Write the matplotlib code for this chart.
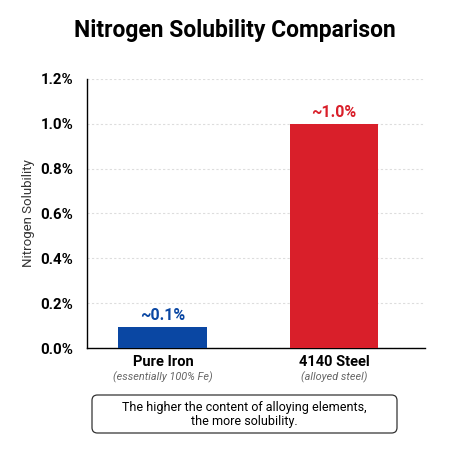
import matplotlib.pyplot as plt
from matplotlib.patches import FancyBboxPatch

categories = ["Pure Iron", "4140 Steel"]
subtitles = ["(essentially 100% Fe)", "(alloyed steel)"]
values = [0.095, 1.0]
value_labels = ["~0.1%", "~1.0%"]
colors = ["#0a47a3", "#d91f2a"]
yticks = [0.0, 0.2, 0.4, 0.6, 0.8, 1.0, 1.2]

plt.rcParams["font.family"] = ["Roboto", "DejaVu Sans"]

fig = plt.figure(figsize=(4.52, 4.54), dpi=100)
ax = fig.add_axes([87 / 452, 1 - 348 / 454, 338 / 452, 269 / 454])

x = range(len(categories))
ax.bar(x, values, width=0.52, color=colors, zorder=3)
for i, v in enumerate(values):
    ax.text(i, v + 0.015, value_labels[i], ha="center", va="bottom",
            fontsize=11.5, fontweight="bold", color=colors[i])

ax.set_xlim(-0.444, 1.532)
ax.set_ylim(0, 1.2)
ax.set_yticks(yticks)
ax.set_yticklabels([f"{t:.1f}%" for t in yticks], fontsize=10.8, fontweight="bold")
ax.set_xticks([])
ax.grid(axis="y", linestyle=(0, (2, 2)), color="#dddddd", linewidth=0.8, zorder=0)
ax.spines["top"].set_visible(False)
ax.spines["right"].set_visible(False)
ax.spines["left"].set_linewidth(1.0)
ax.spines["bottom"].set_linewidth(1.0)
ax.tick_params(axis="y", length=0, pad=10)
ax.set_ylabel("Nitrogen Solubility", fontsize=9.5, color="#333333", labelpad=4)

for i, (c, s) in enumerate(zip(categories, subtitles)):
    ax.text(i, -0.03, c, ha="center", va="top", fontsize=10.5, fontweight="bold")
    ax.text(i, -0.105, s, ha="center", va="top", fontsize=7.8,
            style="italic", color="#666666")

fig.text(235 / 452, 1 - 30 / 454, "Nitrogen Solubility Comparison",
         ha="center", va="center", fontsize=16.5, fontweight="bold")

box = FancyBboxPatch((92 / 452, 1 - 433 / 454), 305 / 452, 38 / 454,
                     boxstyle="round,pad=0,rounding_size=0.012",
                     transform=fig.transFigure, facecolor="white",
                     edgecolor="#333333", linewidth=0.9)
fig.patches.append(box)
fig.text(244 / 452, 1 - 414 / 454,
         "The higher the content of alloying elements,\nthe more solubility.",
         ha="center", va="center", fontsize=9, linespacing=1.1)

fig.savefig("out.png", dpi=100)
